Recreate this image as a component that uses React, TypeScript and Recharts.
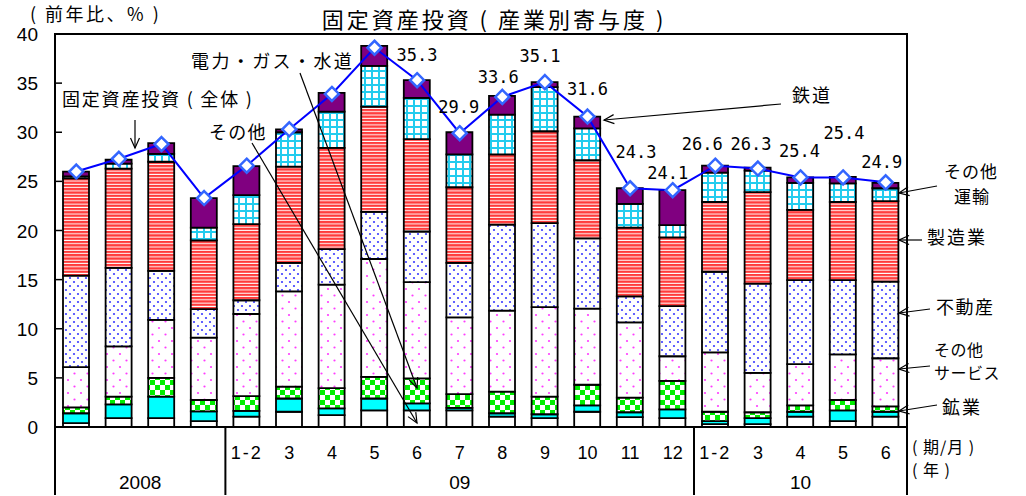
import React from "react";
import { Bar, ComposedChart, Line, XAxis, YAxis } from "recharts";

// 期/月 labels (2008 is quarterly, no label)
const periods = ["", "", "", "", "1-2", "3", "4", "5", "6", "7", "8", "9", "10", "11", "12", "1-2", "3", "4", "5", "6"];
const years = [
	{ label: "2008", start: 0, count: 4 },
	{ label: "09", start: 4, count: 11 },
	{ label: "10", start: 15, count: 5 },
];

// contributions by industry, % points (bottom to top)
const other = [0.4, 0.9, 0.9, 0.6, 1.05, 1.55, 1.2, 1.7, 1.7, 1.7, 1.05, 0.9, 1.55, 1.0, 0.9, 0.3, 0.3, 1.05, 0.6, 1.05];
const mining = [1.0, 1.4, 2.2, 1.0, 0.6, 1.35, 0.7, 1.2, 0.7, 0.25, 0.35, 0.4, 0.65, 0.5, 0.9, 0.3, 0.6, 0.5, 1.1, 0.5];
const utilities = [0.6, 0.8, 1.9, 1.15, 1.5, 1.2, 2.05, 2.2, 2.55, 1.4, 2.2, 1.8, 2.1, 1.5, 2.9, 0.95, 0.6, 0.65, 1.05, 0.55];
const services = [4.1, 5.1, 5.9, 6.35, 8.35, 9.7, 10.55, 12.0, 9.8, 7.8, 8.25, 9.1, 7.75, 7.65, 2.5, 6.05, 4.0, 4.2, 4.65, 4.9];
const realEstate = [9.3, 8.0, 5.0, 2.9, 1.4, 2.9, 3.6, 4.8, 5.15, 5.55, 8.75, 8.55, 7.15, 2.65, 5.1, 8.2, 9.1, 8.55, 7.55, 7.8];
const manufacturing = [9.9, 10.1, 11.1, 7.0, 7.75, 9.8, 10.3, 10.7, 9.4, 7.7, 7.15, 9.35, 7.95, 7.0, 7.0, 7.1, 9.3, 7.15, 7.95, 8.2];
const transport = [0.2, 0.5, 0.8, 1.3, 2.95, 3.5, 3.7, 4.15, 4.2, 3.35, 4.05, 4.5, 3.25, 2.4, 1.25, 3.0, 2.2, 2.75, 1.9, 1.3];
const railway = [0.5, 0.4, 1.1, 3.0, 2.95, 0.3, 1.9, 2.05, 1.8, 2.25, 1.9, 0.5, 1.2, 1.6, 3.55, 0.7, 0.3, 0.55, 0.65, 0.55];

// 固定資産投資（全体）
const total = [26.0, 27.3, 28.8, 23.3, 26.6, 30.3, 33.9, 38.6, 35.3, 29.9, 33.6, 35.1, 31.6, 24.3, 24.1, 26.6, 26.3, 25.4, 25.4, 24.9];

// value label placement relative to the marker (null = no label)
const labelDx = [null, null, null, null, null, null, null, null, 0, -1, -4, -5, 0, 6, -5, -13, -7, -1, 1, -4];
const labelDy = [null, null, null, null, null, null, null, null, -25, -26, -20, -26, -28, -36, -17, -22, -25, -26, -44, -20];

const yTicks = [0, 5, 10, 15, 20, 25, 30, 35, 40];

const data = periods.map((p, i) => ({
	key: `c${i}`,
	period: p,
	other: other[i],
	mining: mining[i],
	utilities: utilities[i],
	services: services[i],
	realEstate: realEstate[i],
	manufacturing: manufacturing[i],
	transport: transport[i],
	railway: railway[i],
	total: total[i],
}));

const W = 1026;
const H = 496;
const PLOT_LEFT = 55;
const PLOT_RIGHT = 907;
const PLOT_TOP = 34;
const PLOT_BOTTOM = 427;
const BAND = (PLOT_RIGHT - PLOT_LEFT) / periods.length;

const JP = "'Noto Sans CJK JP', 'Noto Sans', sans-serif";
const SANS = "'Liberation Sans', Arial, sans-serif";

const YTick = (props: any) => {
	const { x, y, payload } = props;
	return (
		<g>
			<text x={x} y={y} dy={7} textAnchor="end" fontSize={19} fontFamily={SANS} fill="#000">
				{payload.value}
			</text>
			{payload.value > 0 && payload.value < 40 && (
				<line x1={PLOT_LEFT} x2={PLOT_LEFT + 7} y1={y} y2={y} stroke="#000" strokeWidth={1.5} />
			)}
		</g>
	);
};

const XTick = (props: any) => {
	const { x, y, index } = props;
	return (
		<text x={x} y={y + 30} textAnchor="middle" fontSize={18} fontFamily={SANS} fill="#000" letterSpacing={periods[index] === "1-2" ? 2 : 0}>
			{periods[index]}
		</text>
	);
};

const Diamond = (props: any) => {
	const { cx, cy, index } = props;
	const r = 7;
	const dx = labelDx[index];
	const dy = labelDy[index];
	return (
		<g key={`dot-${index}`}>
			<polygon
				points={`${cx},${cy - r} ${cx + r},${cy} ${cx},${cy + r} ${cx - r},${cy}`}
				fill="#fff"
				stroke="#3366ff"
				strokeWidth={2.5}
			/>
			{dx !== null && dy !== null && (
				<text x={cx + dx} y={cy + dy + 6} textAnchor="middle" fontSize={17} fontFamily="'DejaVu Sans Mono', monospace" fill="#000">
					{total[index].toFixed(1)}
				</text>
			)}
		</g>
	);
};

function Arrow({ x1, y1, x2, y2 }: { x1: number; y1: number; x2: number; y2: number }) {
	const a = Math.atan2(y2 - y1, x2 - x1);
	const len = 11;
	const spread = 0.42;
	const ax = x2 - len * Math.cos(a - spread);
	const ay = y2 - len * Math.sin(a - spread);
	const bx = x2 - len * Math.cos(a + spread);
	const by = y2 - len * Math.sin(a + spread);
	return (
		<g stroke="#000" strokeWidth={1.2} fill="none">
			<line x1={x1} y1={y1} x2={x2} y2={y2} />
			<polyline points={`${ax},${ay} ${x2},${y2} ${bx},${by}`} />
		</g>
	);
}

const Label = ({ x, y, text, size = 18, ls = 1.5 }: { x: number; y: number; text: string; size?: number; ls?: number }) => (
	<text x={x} y={y} fontSize={size} fontFamily={JP} letterSpacing={ls} fill="#000" style={{ whiteSpace: "pre" }}>
		{text}
	</text>
);

const Patterns = () => (
	<svg width={0} height={0} style={{ position: "absolute" }}>
		<defs>
			<pattern id="pManuf" width="4" height="3.3" patternUnits="userSpaceOnUse">
				<rect width="4" height="3.3" fill="#ffffff" />
				<rect width="4" height="2.3" fill="#ff3b3b" />
			</pattern>
			<pattern id="pReal" width="8" height="8" patternUnits="userSpaceOnUse">
				<rect width="8" height="8" fill="#ffffff" />
				<circle cx="2" cy="2" r="1.1" fill="#3b3bff" />
				<circle cx="6" cy="6" r="1.1" fill="#3b3bff" />
			</pattern>
			<pattern id="pServ" width="13" height="13" patternUnits="userSpaceOnUse">
				<rect width="13" height="13" fill="#ffffff" />
				<circle cx="3" cy="3" r="1.1" fill="#ff3cff" />
				<circle cx="9.5" cy="9.5" r="1.1" fill="#ff3cff" />
			</pattern>
			<pattern id="pUtil" width="10" height="10" patternUnits="userSpaceOnUse">
				<rect width="10" height="10" fill="#ffffff" />
				<rect width="5" height="5" fill="#00ee00" />
				<rect x="5" y="5" width="5" height="5" fill="#00ee00" />
			</pattern>
			<pattern id="pTrans" width="7" height="7" patternUnits="userSpaceOnUse">
				<rect width="7" height="7" fill="#22ccee" />
				<rect x="2" y="2" width="5" height="5" fill="#ffffff" />
			</pattern>
		</defs>
	</svg>
);

const stroke = { stroke: "#000", strokeWidth: 1.8 };

export default function App() {
	return (
		<div style={{ position: "absolute", left: 0, top: 0, width: W, height: H, background: "#fff" }}>
			<Patterns />
			<ComposedChart width={W} height={H} data={data} margin={{ top: PLOT_TOP, right: W - PLOT_RIGHT, bottom: 0, left: 10 }}>
				<XAxis
					dataKey="key"
					interval={0}
					height={H - PLOT_BOTTOM}
					tickLine={false}
					tickSize={0}
					tick={<XTick />}
					axisLine={{ stroke: "#000", strokeWidth: 2 }}
				/>
				<YAxis
					width={45}
					domain={[0, 40]}
					ticks={yTicks}
					tickLine={false}
					tickSize={0}
					tickMargin={17}
					tick={<YTick />}
					axisLine={{ stroke: "#000", strokeWidth: 2 }}
				/>
				<Bar dataKey="other" stackId="s" barSize={26} fill="#ffffff" {...stroke} isAnimationActive={false} />
				<Bar dataKey="mining" stackId="s" barSize={26} fill="#00ffff" {...stroke} isAnimationActive={false} />
				<Bar dataKey="utilities" stackId="s" barSize={26} fill="url(#pUtil)" {...stroke} isAnimationActive={false} />
				<Bar dataKey="services" stackId="s" barSize={26} fill="url(#pServ)" {...stroke} isAnimationActive={false} />
				<Bar dataKey="realEstate" stackId="s" barSize={26} fill="url(#pReal)" {...stroke} isAnimationActive={false} />
				<Bar dataKey="manufacturing" stackId="s" barSize={26} fill="url(#pManuf)" {...stroke} isAnimationActive={false} />
				<Bar dataKey="transport" stackId="s" barSize={26} fill="url(#pTrans)" {...stroke} isAnimationActive={false} />
				<Bar dataKey="railway" stackId="s" barSize={26} fill="#800080" {...stroke} isAnimationActive={false} />
				<Line
					dataKey="total"
					type="linear"
					stroke="#0000ff"
					strokeWidth={2}
					dot={Diamond}
					activeDot={false}
					isAnimationActive={false}
				/>
			</ComposedChart>
			<svg width={W} height={H} style={{ position: "absolute", left: 0, top: 0, pointerEvents: "none" }}>
				<rect x={PLOT_LEFT} y={PLOT_TOP} width={PLOT_RIGHT - PLOT_LEFT} height={PLOT_BOTTOM - PLOT_TOP} fill="none" stroke="#000" strokeWidth={2} />
				{/* year row separators and labels */}
				{years.map((g) => (
					<line key={`sep-${g.label}`} x1={PLOT_LEFT + g.start * BAND} x2={PLOT_LEFT + g.start * BAND} y1={PLOT_BOTTOM} y2={495} stroke="#000" strokeWidth={2} />
				))}
				<line x1={PLOT_RIGHT} x2={PLOT_RIGHT} y1={PLOT_BOTTOM} y2={495} stroke="#000" strokeWidth={2} />
				{years.map((g) => (
					<text key={`yr-${g.label}`} x={PLOT_LEFT + (g.start + g.count / 2) * BAND} y={489} textAnchor="middle" fontSize={19} fontFamily={SANS} fill="#000">
						{g.label}
					</text>
				))}
				<Label x={30} y={21} text="( 前年比、% )" size={18} ls={2.5} />
				<text x={494} y={28} textAnchor="middle" fontSize={22} fontFamily={JP} letterSpacing={3} fill="#000" style={{ whiteSpace: "pre" }}>
					固定資産投資 ( 産業別寄与度 )
				</text>
				<Label x={62} y={106} text="固定資産投資 ( 全体 )" ls={1.8} />
				<Arrow x1={135} y1={120} x2={135} y2={148} />
				<Label x={191} y={68} text="電力・ガス・水道" ls={2.4} />
				<Arrow x1={300} y1={73} x2={417} y2={388} />
				<Label x={209} y={139} text="その他" ls={1.3} />
				<Arrow x1={252} y1={143} x2={417} y2={423} />
				<Label x={792} y={102} text="鉄道" ls={2} />
				<Arrow x1={781} y1={104} x2={604} y2={120} />
				<Label x={944} y={178} text="その他" ls={1} size={17} />
				<Label x={954} y={203} text="運輸" ls={1} size={17} />
				<Arrow x1={937} y1={186} x2={899} y2={193} />
				<Label x={927} y={244} text="製造業" ls={2} />
				<Arrow x1={922} y1={240} x2={899} y2={240} />
				<Label x={936} y={314} text="不動産" ls={1.5} />
				<Arrow x1={930} y1={309} x2={899} y2={313} />
				<Label x={934} y={356} text="その他" ls={0.5} size={16} />
				<Label x={934} y={379} text="サービス" ls={0.5} size={16} />
				<Arrow x1={930} y1={366} x2={899} y2={369} />
				<Label x={942} y={414} text="鉱業" ls={2} />
				<Arrow x1={937} y1={405} x2={899} y2={411} />
				<Label x={912} y={453} text="( 期/月 )" ls={1} size={16} />
				<Label x={912} y={476} text="( 年 )" ls={1} size={16} />
			</svg>
		</div>
	);
}
